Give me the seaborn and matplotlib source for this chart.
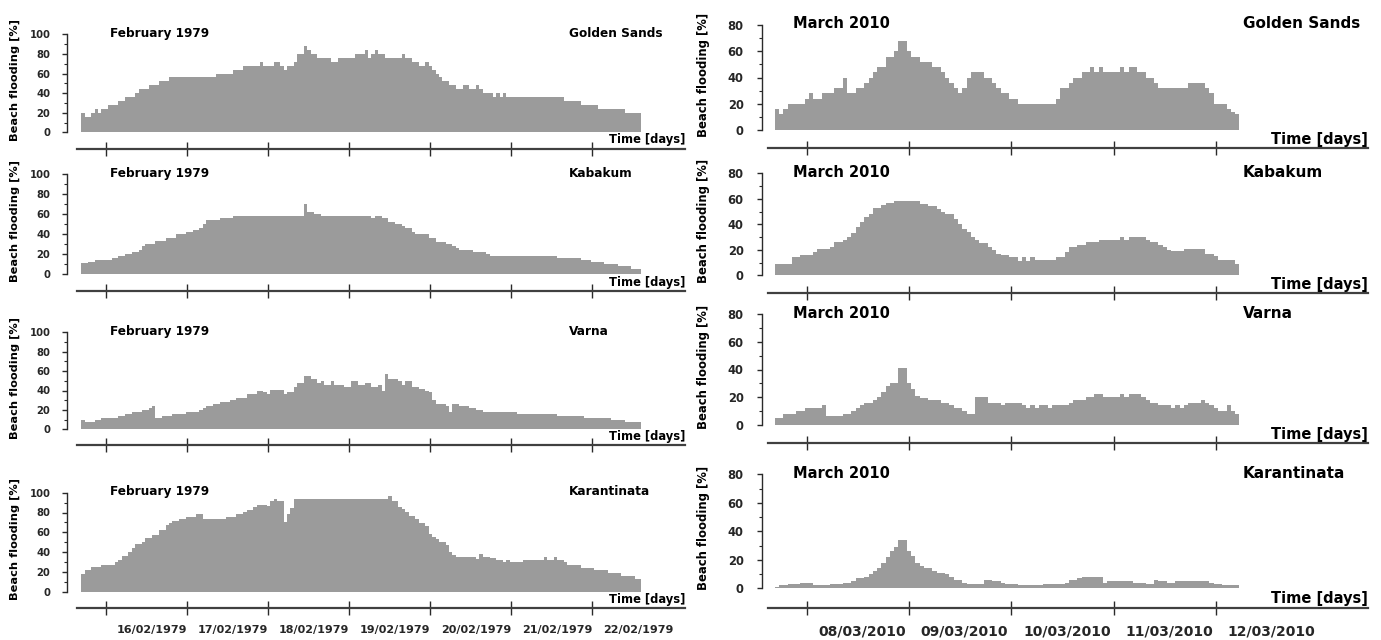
import numpy as np
import pandas as pd
import matplotlib
matplotlib.use("Agg")
import matplotlib.pyplot as plt
import seaborn as sns

sns.set_style("ticks")
plt.rcParams["font.family"] = ["DejaVu Sans"]
plt.rcParams["font.weight"] = "bold"
plt.rcParams["axes.labelweight"] = "bold"

W, H = 1381, 640
GRAY = "#9b9b9b"
DARK = "#2a2a2a"

# ---------------- data ----------------
# time: hours after 16:30 of the first day shown (15/02/1979 and 07/03/2010)
START_DAY = 16.5 / 24.0

sites = ["Golden Sands", "Kabakum", "Varna", "Karantinata"]
feb_title = "February 1979"
mar_title = "March 2010"

feb_ticks = [1, 2, 3, 4, 5, 6, 7]          # days since 15/02/1979 00:00
feb_labels = ["16/02/1979", "17/02/1979", "18/02/1979", "19/02/1979",
              "20/02/1979", "21/02/1979", "22/02/1979"]
mar_ticks = [1, 2, 3, 4, 5]                # days since 07/03/2010 00:00
mar_labels = ["08/03/2010", "09/03/2010", "10/03/2010", "11/03/2010", "12/03/2010"]

# ---- February 1979 (segment end hour, beach flooding %) ----
gs79_end = [1, 3, 4, 5, 6, 8, 11, 13, 16, 17, 20, 23, 26, 40, 45, 48, 53, 54, 57, 59,
            60, 61, 63, 64, 66, 67, 68, 70, 74, 76, 81, 84, 85, 86, 87, 88, 90, 95, 96, 98,
            100, 102, 103, 104, 105, 106, 107, 109, 111, 113, 115, 117, 118, 119, 122, 123,
            124, 125, 126, 143, 148, 153, 161, 166]
gs79_val = [20, 16, 20, 24, 20, 24, 28, 32, 36, 40, 44, 48, 52, 56, 60, 64, 68, 72, 68, 72,
            68, 64, 68, 72, 80, 88, 84, 80, 76, 72, 76, 80, 84, 76, 80, 84, 80, 76, 80, 76,
            72, 68, 72, 68, 64, 60, 56, 52, 48, 44, 48, 44, 48, 44, 40, 36,
            40, 36, 40, 36, 32, 28, 24, 20]

kb79_end = [2, 4, 9, 11, 13, 15, 17, 18, 19, 22, 25, 28, 31, 33, 35, 36, 37, 41, 45, 66,
            67, 69, 71, 86, 87, 89, 91, 93, 95, 96, 98, 99, 103, 105, 108, 110, 111, 112, 116, 120,
            121, 141, 148, 151, 155, 159, 163, 166]
kb79_val = [11, 12, 14, 16, 18, 20, 22, 24, 28, 30, 33, 36, 40, 42, 44, 46, 50, 54, 56, 58,
            70, 62, 60, 58, 56, 58, 56, 52, 50, 48, 46, 42, 40, 36, 32, 30, 28, 26, 24, 22,
            20, 18, 16, 14, 12, 10, 8, 5]

va79_end = [1, 4, 6, 11, 13, 15, 18, 20, 21, 22, 24, 27, 31, 35, 36, 37, 39, 41, 44, 46,
            49, 52, 54, 55, 56, 60, 61, 63, 64, 66, 68, 70, 71, 72, 74, 75, 78, 80, 82, 84,
            86, 88, 89, 90, 91, 94, 95, 96, 98, 100, 102, 103, 104, 105, 108, 109, 110, 112, 115, 117,
            119, 129, 141, 149, 157, 161, 166]
va79_val = [10, 8, 10, 12, 14, 16, 18, 20, 22, 24, 12, 14, 16, 18, 20, 22, 24, 26, 28, 30,
            32, 36, 40, 38, 36, 41, 36, 38, 44, 48, 55, 52, 48, 50, 46, 50, 46, 44, 50, 46,
            48, 44, 46, 40, 57, 52, 50, 46, 50, 44, 42, 40, 38, 30, 26, 24, 18, 26, 24, 22,
            20, 18, 16, 14, 12, 10, 8]

kr79_end = [1, 3, 6, 10, 11, 12, 14, 15, 16, 18, 19, 21, 23, 25, 26, 27, 29, 31, 34, 36,
            43, 46, 48, 49, 51, 52, 55, 56, 57, 58, 60, 61, 62, 63, 91, 92, 94, 95, 96, 97,
            99, 100, 102, 103, 104, 105, 106, 108, 109, 110, 111, 117, 118, 119, 121, 123, 125, 126, 127, 131,
            137, 138, 140, 141, 143, 144, 148, 152, 156, 160, 164, 166]
kr79_val = [18, 22, 25, 27, 30, 32, 36, 40, 44, 48, 50, 54, 57, 62, 67, 69, 71, 73, 75, 78,
            73, 75, 78, 80, 83, 86, 88, 87, 92, 94, 92, 70, 78, 85, 94, 97, 92, 86, 84, 80,
            76, 73, 69, 66, 58, 55, 53, 50, 47, 40, 37, 35, 33, 38, 35, 34, 32, 30, 32, 30,
            32, 35, 32, 35, 32, 30, 27, 24, 22, 19, 16, 13]

# ---- March 2010 ----
gs10_end = [1, 2, 3, 7, 8, 9, 11, 14, 16, 17, 19, 21, 22, 23, 24, 26, 28, 29, 31, 32,
            34, 37, 39, 40, 41, 42, 43, 44, 45, 46, 49, 51, 52, 53, 55, 57, 66, 67, 69, 70,
            72, 74, 75, 76, 77, 81, 82, 83, 85, 87, 89, 90, 97, 101, 102, 103, 106, 107, 108, 109]
gs10_val = [16, 12, 16, 20, 24, 28, 24, 28, 32, 40, 28, 32, 36, 40, 44, 48, 56, 60, 68, 60,
            56, 52, 48, 44, 40, 36, 32, 28, 32, 40, 44, 40, 36, 32, 28, 24, 20, 24, 32, 36,
            40, 44, 48, 44, 48, 44, 48, 44, 48, 44, 40, 36, 32, 36, 32, 28, 20, 16, 14, 12]

kb10_end = [4, 6, 9, 10, 13, 14, 16, 17, 18, 19, 20, 21, 22, 23, 25, 26, 28, 34, 36, 38,
            39, 40, 42, 43, 44, 45, 46, 47, 48, 50, 51, 52, 53, 55, 57, 58, 59, 60, 61, 66,
            68, 69, 71, 73, 76, 81, 82, 83, 87, 88, 90, 91, 92, 93, 96, 101, 103, 104, 108, 109]
kb10_val = [9, 14, 16, 18, 21, 22, 26, 28, 30, 33, 38, 42, 46, 48, 53, 55, 57, 58, 56, 54,
            52, 50, 48, 44, 40, 36, 34, 30, 28, 25, 22, 20, 17, 16, 14, 11, 14, 11, 14, 12,
            14, 18, 22, 24, 26, 28, 30, 28, 30, 28, 26, 24, 22, 20, 19, 21, 17, 15, 12, 9]

va10_end = [2, 5, 7, 11, 12, 16, 18, 19, 20, 21, 23, 24, 25, 26, 27, 29, 31, 32, 33, 34,
            36, 39, 41, 42, 44, 45, 47, 50, 53, 54, 58, 59, 60, 61, 62, 64, 65, 69, 70, 73,
            75, 77, 81, 82, 83, 86, 87, 88, 90, 93, 94, 95, 96, 97, 100, 101, 102, 103, 104, 106,
            107, 108, 109]
va10_val = [5, 8, 10, 12, 14, 6, 8, 10, 12, 14, 16, 18, 20, 24, 28, 30, 41, 30, 26, 21,
            19, 18, 16, 14, 12, 10, 8, 20, 16, 14, 16, 14, 12, 14, 12, 14, 12, 14, 16, 18,
            20, 22, 20, 22, 20, 22, 20, 18, 16, 14, 12, 14, 12, 14, 16, 18, 16, 14, 12, 10,
            14, 10, 8]

kr10_end = [1, 3, 6, 9, 13, 16, 18, 19, 21, 22, 23, 24, 25, 26, 27, 28, 29, 31, 32, 33,
            34, 35, 37, 38, 40, 41, 42, 44, 45, 49, 51, 53, 54, 57, 63, 68, 69, 71, 72, 77,
            78, 84, 87, 89, 90, 92, 94, 102, 103, 105, 109]
kr10_val = [1, 2, 3, 4, 2, 3, 4, 5, 7, 8, 10, 12, 14, 18, 22, 26, 29, 34, 26, 23,
            18, 16, 14, 12, 11, 10, 8, 6, 4, 3, 6, 5, 4, 3, 2, 3, 4, 6, 7, 8,
            4, 5, 4, 3, 6, 5, 4, 5, 4, 3, 2]

feb_series = [(gs79_end, gs79_val), (kb79_end, kb79_val), (va79_end, va79_val), (kr79_end, kr79_val)]
mar_series = [(gs10_end, gs10_val), (kb10_end, kb10_val), (va10_end, va10_val), (kr10_end, kr10_val)]

# ---------------- layout (pixels) ----------------
cols = {
    "feb": dict(px_left=66.7, px_right=685, xlim=(0.509, 8.142), line_start=0.632, ymax=100,
                rows=[(34.3, 132.3, 148.5), (174.3, 274, 291), (332.3, 429.3, 445), (492.7, 591.7, 608.3)],
                fs_tick=7.2, fs_ylab=8.2, fs_title=8.7, fs_site=8.7, fs_time=8.3, fs_date=8.0,
                tick_pad=8.2, title_x=110, site_x=569, ylab_x=15, lab_off=0.13, date_pad=12.3,
                time_dy=8.5),
    "mar": dict(px_left=762, px_right=1368, xlim=(0.563, 6.487), line_start=0.621, ymax=80,
                rows=[(25, 130, 148), (173.3, 275.3, 293), (314.3, 424.7, 443.3), (474.3, 588.3, 607.5)],
                fs_tick=8.3, fs_ylab=8.4, fs_title=10.5, fs_site=11, fs_time=10.5, fs_date=10,
                tick_pad=9.6, title_x=793, site_x=1243, ylab_x=703, lab_off=0.114, date_pad=12.0,
                time_dy=8.7),
}

fig = plt.figure(figsize=(W / 100, H / 100), dpi=100)
fig.patch.set_facecolor("white")


def fx(px):
    return px / W


def fy(py):
    return 1 - py / H


def draw_panel(col, r, end_h, vals, title, ticks, labels, last):
    c = cols[col]
    ytop, y0, yline = c["rows"][r]
    ax = fig.add_axes([fx(c["px_left"]), fy(y0), (c["px_right"] - c["px_left"]) / W, (y0 - ytop) / H])
    edges = START_DAY + np.concatenate([[0], np.asarray(end_h, float)]) / 24.0
    mids = (edges[:-1] + edges[1:]) / 2
    df = pd.DataFrame({"t": mids, "v": vals})
    sns.histplot(data=df, x="t", weights="v", bins=[float(b) for b in edges], element="step", fill=True,
                 color=GRAY, alpha=1, linewidth=0, ax=ax)
    ax.set_xlim(*c["xlim"])
    ax.set_ylim(0, c["ymax"])
    ax.set_xlabel("")
    ax.set_ylabel("")
    ax.patch.set_alpha(0)
    for s in ["top", "right"]:
        ax.spines[s].set_visible(False)
    ax.spines["left"].set_bounds(0, c["ymax"])
    ax.spines["left"].set_color(DARK)
    ax.spines["left"].set_linewidth(1.0)
    ax.spines["bottom"].set_position(("outward", (yline - y0) * 0.72))
    ax.spines["bottom"].set_bounds(c["line_start"], c["xlim"][1])
    ax.spines["bottom"].set_color("#404040")
    ax.spines["bottom"].set_linewidth(1.6)

    ax.set_yticks(np.arange(0, c["ymax"] + 1, 20))
    ax.set_yticks(np.arange(10, c["ymax"], 20), minor=True)
    ax.tick_params(axis="y", which="major", direction="out", length=3.6, width=1,
                   color=DARK, labelsize=c["fs_tick"], pad=c["tick_pad"])
    ax.tick_params(axis="y", which="minor", direction="out", length=2.2, width=0.8, color=DARK)
    for lab in ax.get_yticklabels():
        lab.set_fontweight("bold")

    ax.set_xticks(ticks)
    ax.set_xticklabels([])
    ax.tick_params(axis="x", which="major", direction="inout", length=10, width=1.0, color=DARK)
    if last:
        ax.set_xticks([t + c["lab_off"] for t in ticks], labels, minor=True)
        ax.tick_params(axis="x", which="minor", length=0, labelsize=c["fs_date"], pad=c["date_pad"])
        for lab in ax.get_xticklabels(minor=True):
            lab.set_ha("left")
            lab.set_fontweight("bold")
    else:
        ax.set_xticks([], minor=True)

    # texts
    fig.text(fx(c["title_x"]), fy(ytop - 1), title, ha="left", va="center",
             fontsize=c["fs_title"], fontweight="bold", color="black")
    fig.text(fx(c["site_x"]), fy(ytop - 1), sites[r], ha="left", va="center",
             fontsize=c["fs_site"], fontweight="bold", color="black")
    fig.text(fx(c["px_right"]), fy(yline - c["time_dy"]), "Time [days]", ha="right", va="center",
             fontsize=c["fs_time"], fontweight="bold", color="black")
    fig.text(fx(c["ylab_x"]), fy((ytop + y0) / 2 - 3), "Beach flooding [%]", rotation=90,
             ha="center", va="center", fontsize=c["fs_ylab"], fontweight="bold", color="black")
    return ax


for r in range(4):
    e, v = feb_series[r]
    draw_panel("feb", r, e, v, feb_title, feb_ticks, feb_labels, r == 3)
    e, v = mar_series[r]
    draw_panel("mar", r, e, v, mar_title, mar_ticks, mar_labels, r == 3)

fig.savefig("out.png", dpi=100, facecolor="white")
